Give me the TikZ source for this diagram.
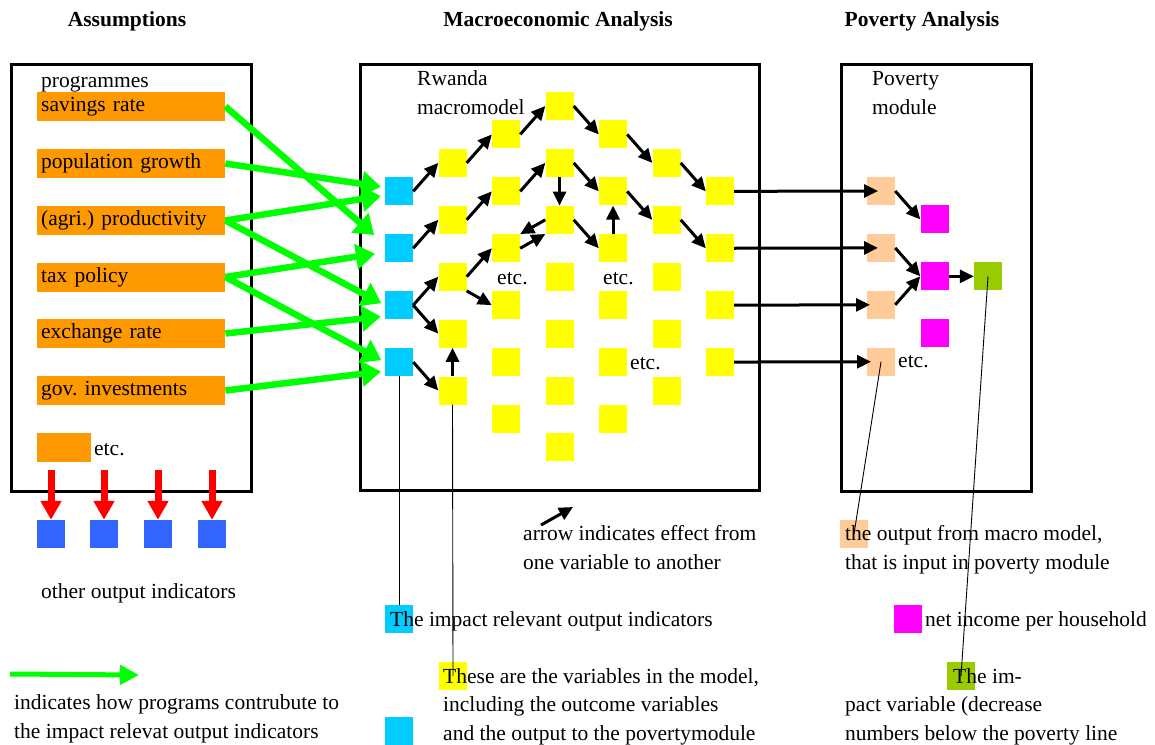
\documentclass[tikz,border=0pt]{standalone}
\usepackage{fontspec}
\setmainfont{Liberation Serif}
\usetikzlibrary{arrows.meta,
  positioning
}
\frenchspacing
\definecolor{progorange}{HTML}{FF9900}
\definecolor{indblue}{HTML}{00CCFF}
\definecolor{varyellow}{HTML}{FFFF00}
\definecolor{inpeach}{HTML}{FFCC99}
\definecolor{incmagenta}{HTML}{FF00FF}
\definecolor{impgreen}{HTML}{99CC00}
\definecolor{arrowgreen}{HTML}{00FF00}
\definecolor{otherblue}{HTML}{3366FF}

\def\colgap{53.5}
\def\rowgap{28.45}
\def\varsize{28}

\tikzset{
  box/.style={line width=3pt},
  var/.style={fill=varyellow, minimum size=\varsize pt, inner sep=0pt},
  indicator/.style={var, fill=indblue},
  modin/.style={var, fill=inpeach},
  income/.style={var, fill=incmagenta},
  impact/.style={var, fill=impgreen},
  other/.style={var, fill=otherblue},
  prog/.style={anchor=west, fill=progorange, text width=180pt, inner xsep=4pt, inner ysep=0pt,
    minimum height=29pt, text height=15pt, text depth=5pt, align=left},
  txt/.style={anchor=base west, inner sep=0pt, align=left},
  title/.style={anchor=base, inner sep=0pt, font=\fontsize{21.5}{28.5}\selectfont\bfseries},
  effect/.style={-{Triangle[length=14pt,width=13pt]}, line width=3pt},
  contrib/.style={-{Triangle[length=19pt,width=25pt]}, draw=arrowgreen, line width=6.5pt},
  spill/.style={-{Triangle[length=19pt,width=20pt]}, draw=red, line width=7pt},
  pointer/.style={line width=0.9pt}
}

\begin{document}
\begin{tikzpicture}[x=1pt, y=-1pt, font=\fontsize{21.5}{28.5}\selectfont]
  \useasboundingbox (0,0) rectangle (1155,744);

  % titles
  \node[title] (tassump) at (127,27) {Assumptions};
  \node[title] (tmacro) at (558,27) {Macroeconomic Analysis};
  \node[title] (tpov) at (922,27) {Poverty Analysis};

  % Assumptions
  \draw[box] (11,64) rectangle (251,491);
  \node[txt] (progs) at (41,87) {programmes};
  \node[prog] (savings) at (37,106.5) {savings rate};
  \node[prog] (population) at (37,163.5) {population growth};
  \node[prog] (productivity) at (37,220.5) {(agri.) productivity};
  \node[prog] (tax) at (37,277) {tax policy};
  \node[prog] (exchange) at (37,333.5) {exchange rate};
  \node[prog] (investments) at (37,390.5) {gov. investments};
  \node[prog, text width=46pt] (progetc) at (37,447) {};
  \node[txt] (progetctxt) at (94,455) {etc.};

  % other output indicators
  \node[other] (ob1) at (51,534) {};
  \node[other] (ob2) at (104,534) {};
  \node[other] (ob3) at (158,534) {};
  \node[other] (ob4) at (212,534) {};
  \coordinate[above=50pt of ob1.north] (r1);
  \coordinate[above=50pt of ob2.north] (r2);
  \coordinate[above=50pt of ob3.north] (r3);
  \coordinate[above=50pt of ob4.north] (r4);
  \draw[spill] (r1) -- (ob1.north);
  \draw[spill] (r2) -- (ob2.north);
  \draw[spill] (r3) -- (ob3.north);
  \draw[spill] (r4) -- (ob4.north);
  \node[txt] (othertxt) at (41,598) {other output indicators};

  % Macroeconomic Analysis
  \draw[box] (360,64) rectangle (759,490);
  \node[txt] (rwanda) at (417,114) {Rwanda\\macromodel};
  \begin{scope}[shift={(399,106)}]
    \node[indicator] (A3) at (0, {\rowgap*3}) {};
    \node[indicator] (A5) at (0, {\rowgap*5}) {};
    \node[indicator] (A7) at (0, {\rowgap*7}) {};
    \node[indicator] (A9) at (0, {\rowgap*9}) {};

    \node[var] (B2) at ({\colgap*1}, {\rowgap*2}) {};
    \node[var] (B4) at ({\colgap*1}, {\rowgap*4}) {};
    \node[var] (B6) at ({\colgap*1}, {\rowgap*6}) {};
    \node[var] (B8) at ({\colgap*1}, {\rowgap*8}) {};
    \node[var] (B10) at ({\colgap*1}, {\rowgap*10}) {};

    \node[var] (C1) at ({\colgap*2}, {\rowgap*1}) {};
    \node[var] (C3) at ({\colgap*2}, {\rowgap*3}) {};
    \node[var] (C5) at ({\colgap*2}, {\rowgap*5}) {};
    \node[txt] (C6) at ({\colgap*2-9}, {\rowgap*6+8}) {etc.};
    \node[var] (C7) at ({\colgap*2}, {\rowgap*7}) {};
    \node[var] (C9) at ({\colgap*2}, {\rowgap*9}) {};
    \node[var] (C11) at ({\colgap*2}, {\rowgap*11}) {};

    \node[var] (D0) at ({\colgap*3}, 0) {};
    \node[var] (D2) at ({\colgap*3}, {\rowgap*2}) {};
    \node[var] (D4) at ({\colgap*3}, {\rowgap*4}) {};
    \node[var] (D6) at ({\colgap*3}, {\rowgap*6}) {};
    \node[var] (D8) at ({\colgap*3}, {\rowgap*8}) {};
    \node[var] (D10) at ({\colgap*3}, {\rowgap*10}) {};
    \node[var] (D12) at ({\colgap*3}, {\rowgap*12}) {};

    \node[var] (E1) at ({\colgap*4}, {\rowgap*1}) {};
    \node[var] (E3) at ({\colgap*4}, {\rowgap*3}) {};
    \node[var] (E5) at ({\colgap*4}, {\rowgap*5}) {};
    \node[txt] (E6) at ({\colgap*4-10}, {\rowgap*6+8}) {etc.};
    \node[var] (E7) at ({\colgap*4}, {\rowgap*7}) {};
    \node[var] (E9) at ({\colgap*4}, {\rowgap*9}) {};
    \node[txt] (E9etc) at ({\colgap*4+17}, {\rowgap*9+7}) {etc.};
    \node[var] (E11) at ({\colgap*4}, {\rowgap*11}) {};

    \node[var] (F2) at ({\colgap*5}, {\rowgap*2}) {};
    \node[var] (F4) at ({\colgap*5}, {\rowgap*4}) {};
    \node[var] (F6) at ({\colgap*5}, {\rowgap*6}) {};
    \node[var] (F8) at ({\colgap*5}, {\rowgap*8}) {};
    \node[var] (F10) at ({\colgap*5}, {\rowgap*10}) {};

    \node[var] (G3) at ({\colgap*6}, {\rowgap*3}) {};
    \node[var] (G5) at ({\colgap*6}, {\rowgap*5}) {};
    \node[var] (G7) at ({\colgap*6}, {\rowgap*7}) {};
    \node[var] (G9) at ({\colgap*6}, {\rowgap*9}) {};
  \end{scope}

  \draw[effect] (A3.east) -- (B2.west);
  \draw[effect] (B2.east) -- (C1.west);
  \draw[effect] (C1.east) -- (D0.west);
  \draw[effect] (D0.east) -- (E1.west);
  \draw[effect] (E1.east) -- (F2.west);
  \draw[effect] (F2.east) -- (G3.west);

  \draw[effect] (A5.east) -- (B4.west);
  \draw[effect] (B4.east) -- (C3.west);
  \draw[effect] (C3.east) -- (D2.west);
  \draw[effect] (D2.east) -- (E3.west);
  \draw[effect] (E3.east) -- (F4.west);
  \draw[effect] (F4.east) -- (G5.west);

  \draw[effect] (D2) -- (D4);
  \draw[effect] (D4.west) -- (C5.north east);
  \draw[effect] (C5.east) -- (D4.south west);
  \draw[effect] (D4.east) -- (E5.west);
  \draw[effect] (E5) -- (E3);

  \draw[effect] (B6.east) -- (C5.west);
  \draw[effect] (A7.east) -- (B6.west);
  \draw[effect] (A7.east) -- (B8.west);
  \draw[effect] (B6.south east) -- (C7.west);
  \draw[effect] (A9.east) -- (B10.west);
  \draw[effect] (B10) -- (B8);

  % programmes to indicators
  \draw[contrib, shorten >=4pt] (population.east) -- ([yshift=4pt]A3.west);
  \draw[contrib, shorten >=4pt] (productivity.east) -- ([yshift=-4pt]A3.west);
  \draw[contrib, shorten >=14pt] (savings.east) -- ([yshift=4pt]A5.west);
  \draw[contrib, shorten >=10pt] (tax.east) -- ([yshift=-4pt]A5.west);
  \draw[contrib, shorten >=4pt] (productivity.east) -- (A7.west);
  \draw[contrib, shorten >=4pt] (exchange.east) -- ([yshift=-11pt]A7.west);
  \draw[contrib, shorten >=4pt] (tax.east) -- (A9.west);
  \draw[contrib, shorten >=4pt] (investments.east) -- ([yshift=-9pt]A9.west);

  % Poverty Analysis
  \draw[box] (841,64) rectangle (1031,491);
  \node[txt] (povmod) at (872,114) {Poverty\\module};
  \begin{scope}[shift={(881,191)}]
    \node[modin] (P1) at (0, 0) {};
    \node[modin] (P2) at (0, {\rowgap*2}) {};
    \node[modin] (P3) at (0, {\rowgap*4}) {};
    \node[modin] (P4) at (0, {\rowgap*6}) {};
    \node[txt] (P4etc) at (17, {\rowgap*6+6}) {etc.};

    \node[income] (M1) at ({\colgap}, {\rowgap*1}) {};
    \node[income] (M2) at ({\colgap}, {\rowgap*3}) {};
    \node[income] (M3) at ({\colgap}, {\rowgap*5}) {};

    \node[impact] (Z) at ({\colgap*2}, {\rowgap*3}) {};
  \end{scope}

  \draw[effect, shorten >=3pt] (G3.east) -- (P1.center);
  \draw[effect, shorten >=3pt] (G5.east) -- (P2.center);
  \draw[effect, shorten >=11pt] (G7.east) -- (P3.center);
  \draw[effect, shorten >=10pt] (G9.east) -- (P4.center);

  \draw[effect] (P1.east) -- (M1.west);
  \draw[effect] (P2.east) -- (M2.west);
  \draw[effect] (P3.east) -- (M2.west);
  \draw[effect] (M2.east) -- (Z.west);

  % legend
  \coordinate (g0) at (10,674);
  \coordinate (g1) at (139,675);
  \draw[contrib, line width=5pt, -{Triangle[length=19pt,width=19pt]}] (g0) -- (g1);
  \node[txt] (greentxt) at (14,738) {indicates how programs contrubute to\\the impact relevat output indicators};

  \coordinate (e0) at (541,525);
  \coordinate (e1) at (573,507);
  \draw[effect] (e0) -- (e1);
  \node[txt] (effecttxt) at (523,569) {arrow indicates effect from\\one variable to another};

  \node[indicator] (lblue) at (399,619) {};
  \node[txt] (lbluetxt) at (390,626) {The impact relevant output indicators};
  \node[var] (lyellow) at (453,676) {};
  \node[indicator] (lblue2) at (399,731) {};
  \node[txt] (lyellowtxt) at (443,740) {These are the variables in the model,\\including the outcome variables\\and the output to the povertymodule};

  \node[modin] (lpeach) at (854,534) {};
  \node[txt] (lpeachtxt) at (845,569) {the output from macro model,\\that is input in poverty module};
  \node[income] (lmag) at (908,619) {};
  \node[txt] (lmagtxt) at (925,626) {net income per household};
  \node[impact] (lgreen) at (961,676) {};
  \node[txt] (lgreentxt) at (953,683) {The im-};
  \node[txt] (lgreentxt2) at (845,740) {pact variable (decrease\\numbers below the poverty line};

  \draw[pointer] (A9.south) -- (lblue.north);
  \draw[pointer] (B10.south) -- (lyellow.center);
  \draw[pointer] (P4.center) -- (lpeach.center);
  \draw[pointer] (Z.center) -- (lgreen.center);
\end{tikzpicture}
\end{document}
